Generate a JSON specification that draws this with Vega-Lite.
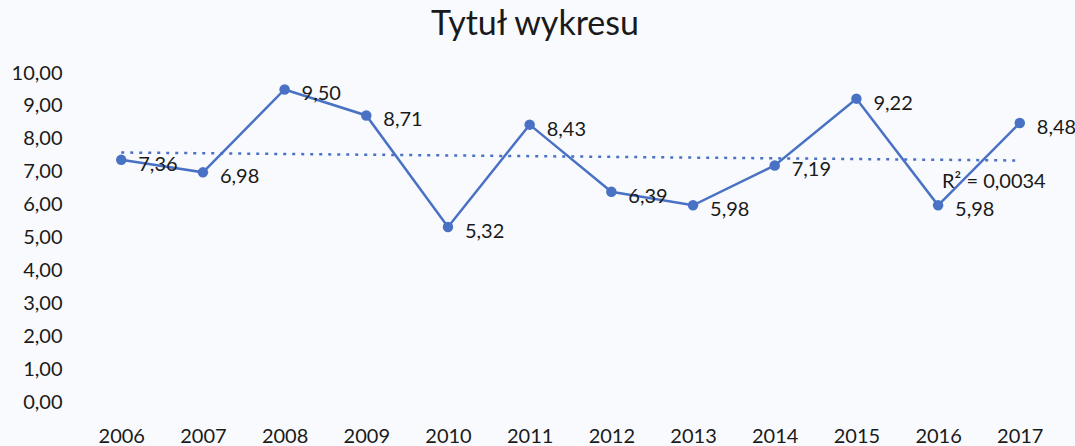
{
  "$schema": "https://vega.github.io/schema/vega-lite/v6.json",
  "autosize": "none",
  "width": 950,
  "height": 329,
  "padding": {"left": 100, "top": 73, "right": 25, "bottom": 44},
  "background": "#f9fafd",
  "title": {
    "text": "Tytuł wykresu",
    "anchor": "middle",
    "frame": "group",
    "dx": -40,
    "offset": 21,
    "font": "Lato",
    "fontSize": 34,
    "fontWeight": "normal",
    "color": "#1a1a1a"
  },
  "config": {
    "locale": {"number": {"decimal": ",", "thousands": "\u00a0", "grouping": [3], "currency": ["", " zł"]}},
    "view": {"stroke": null},
    "axis": {
      "domain": false,
      "grid": false,
      "ticks": false,
      "tickSize": 0,
      "labelFont": "Lato",
      "labelFontSize": 20,
      "labelColor": "#1a1a1a",
      "title": null
    }
  },
  "data": {
    "values": [
      {"year": 2006, "value": 7.36},
      {"year": 2007, "value": 6.98},
      {"year": 2008, "value": 9.50},
      {"year": 2009, "value": 8.71},
      {"year": 2010, "value": 5.32},
      {"year": 2011, "value": 8.43},
      {"year": 2012, "value": 6.39},
      {"year": 2013, "value": 5.98},
      {"year": 2014, "value": 7.19},
      {"year": 2015, "value": 9.22},
      {"year": 2016, "value": 5.98},
      {"year": 2017, "value": 8.48}
    ]
  },
  "encoding": {
    "x": {
      "field": "year",
      "type": "quantitative",
      "scale": {"domain": [2005.74, 2017.37], "nice": false, "zero": false},
      "axis": {"values": [2006, 2007, 2008, 2009, 2010, 2011, 2012, 2013, 2014, 2015, 2016, 2017], "format": "d", "labelPadding": 24}
    },
    "y": {
      "field": "value",
      "type": "quantitative",
      "scale": {"domain": [0, 10], "nice": false},
      "axis": {"values": [0, 1, 2, 3, 4, 5, 6, 7, 8, 9, 10], "format": ".2f", "labelPadding": 38}
    }
  },
  "layer": [
    {
      "transform": [{"regression": "value", "on": "year"}],
      "mark": {"type": "line", "color": "#4a72c4", "strokeWidth": 2.5, "strokeDash": [3, 6], "strokeCap": "butt"}
    },
    {
      "mark": {"type": "line", "color": "#4a72c4", "strokeWidth": 2.5}
    },
    {
      "mark": {"type": "point", "filled": true, "color": "#4a72c4", "size": 110, "opacity": 1}
    },
    {
      "mark": {"type": "text", "align": "left", "baseline": "middle", "dx": 17, "dy": 5, "font": "Lato", "fontSize": 20, "color": "#1a1a1a"},
      "encoding": {"text": {"field": "value", "type": "quantitative", "format": ".2f"}}
    },
    {
      "data": {"values": [{"year": 2016, "value": 6.69, "label": "R² = 0,0034"}]},
      "mark": {"type": "text", "align": "left", "baseline": "middle", "dx": 4, "font": "Lato", "fontSize": 20, "color": "#1a1a1a"},
      "encoding": {"text": {"field": "label", "type": "nominal"}}
    }
  ]
}
